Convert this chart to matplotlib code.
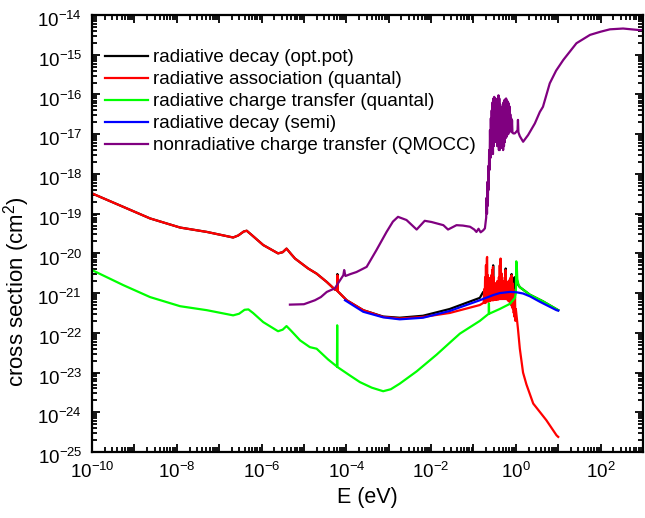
import matplotlib
matplotlib.use('Agg')
import numpy as np
import matplotlib.pyplot as plt
import matplotlib.transforms as mtransforms
from matplotlib.ticker import LogLocator, FixedLocator, FuncFormatter, NullFormatter

plt.rcParams['font.family'] = ['Liberation Sans', 'DejaVu Sans']
plt.rcParams['mathtext.default'] = 'regular'

# values are log10(E / eV) and log10(sigma / cm^2)

# radiative association (quantal)
red_logE = [-10.0, -9.26, -8.63, -7.92, -7.29, -6.67, -6.55, -6.42, -6.35, -6.25,
            -5.96, -5.61, -5.50, -5.41, -5.30, -5.21, -4.90, -4.70, -4.46, -4.27,
            -4.215, -4.21, -4.205, -3.99, -3.60, -3.13, -2.74, -2.19, -1.56, -0.85,
            -0.786, -0.76,
            -0.745, -0.735, -0.725, -0.715, -0.705, -0.695, -0.685, -0.677, -0.670, -0.660,
            -0.650, -0.640, -0.630, -0.620, -0.610, -0.600, -0.590, -0.580, -0.570, -0.560,
            -0.550, -0.540, -0.530, -0.520, -0.510, -0.500, -0.490, -0.480, -0.470, -0.460,
            -0.450, -0.440, -0.430, -0.420, -0.410, -0.400, -0.390, -0.380, -0.370, -0.360,
            -0.350, -0.340, -0.330, -0.320, -0.310, -0.300, -0.290, -0.280, -0.270, -0.260,
            -0.250, -0.240, -0.230, -0.220, -0.210, -0.200, -0.190, -0.180, -0.170, -0.160,
            -0.150, -0.140, -0.130, -0.120, -0.110, -0.100, -0.090, -0.080, -0.070, -0.060,
            -0.050, -0.040, -0.030, -0.020, -0.010, 0.000,
            0.05, 0.094, 0.17, 0.25, 0.41, 0.72, 0.96, 1.0]
red_logS = [-18.49, -18.83, -19.12, -19.35, -19.46, -19.60, -19.55, -19.45, -19.43, -19.52,
            -19.79, -20.00, -19.97, -19.88, -20.02, -20.13, -20.38, -20.51, -20.72, -20.91,
            -20.93, -20.55, -20.95, -21.18, -21.43, -21.60, -21.64, -21.60, -21.50, -21.30,
            -21.26, -21.24,
            -20.90, -21.25, -20.60, -21.25, -20.30, -21.22, -20.12, -20.09, -21.20, -20.55,
            -21.22, -20.75, -21.20, -20.62, -21.20, -20.70, -21.18, -20.55, -21.18, -20.42,
            -21.18, -20.34, -21.18, -20.60, -21.17, -20.80, -21.17, -20.75, -21.17, -20.82,
            -21.16, -20.70, -21.16, -20.75, -21.16, -20.60, -21.15, -20.30, -21.15, -20.13,
            -21.15, -20.50, -21.15, -20.80, -21.15, -20.85, -21.15, -20.70, -21.15, -20.60,
            -21.15, -20.42, -21.15, -20.70, -21.15, -20.80, -21.18, -20.85, -21.20, -20.70,
            -21.22, -20.65, -21.25, -20.60, -21.30, -20.55, -21.35, -20.75, -21.40, -20.90,
            -21.50, -21.00, -21.60, -21.10, -21.70, -21.40,
            -21.90, -22.40, -23.00, -23.30, -23.78, -24.20, -24.58, -24.62]

# radiative decay (opt.pot)
black_logE = [-10.0, -9.26, -8.63, -7.92, -7.29, -6.67, -6.55, -6.42, -6.35, -6.25,
              -5.96, -5.61, -5.50, -5.41, -5.30, -5.21, -4.90, -4.70, -4.46, -4.27,
              -4.215, -4.21, -4.205, -3.99, -3.60, -3.13, -2.74, -2.19, -1.56, -0.85,
              -0.77, -0.75, -0.70, -0.54, -0.535, -0.53, -0.245, -0.24, -0.235, -0.11,
              -0.10, -0.09, -0.035, -0.03, -0.02, 0.01, 0.03, 0.06, 0.094, 0.33, 0.645, 1.0]
black_logS = [-18.49, -18.83, -19.12, -19.35, -19.46, -19.60, -19.55, -19.45, -19.43, -19.52,
              -19.79, -20.00, -19.97, -19.88, -20.02, -20.13, -20.38, -20.51, -20.72, -20.91,
              -20.93, -20.52, -20.95, -21.18, -21.43, -21.59, -21.62, -21.57, -21.40, -21.12,
              -20.97, -21.00, -21.05, -21.05, -20.30, -21.05, -21.05, -20.38, -21.05, -21.00,
              -20.52, -21.00, -21.00, -20.60, -20.90, -20.63, -20.70, -20.80, -20.85, -21.04,
              -21.21, -21.43]

# radiative charge transfer (quantal)
green_logE = [-10.0, -9.26, -8.63, -7.92, -7.29, -6.67, -6.53, -6.40, -6.31, -6.20,
              -5.96, -5.61, -5.50, -5.41, -5.30, -5.09, -4.86, -4.70, -4.43, -4.22,
              -4.215, -4.21, -3.92, -3.68, -3.40, -3.13, -2.95, -2.74, -2.34, -1.87,
              -1.56, -1.32, -0.85, -0.64, -0.635, -0.63, -0.38, -0.14, -0.02, 0.00,
              0.01, 0.02, 0.035, 0.06, 0.094, 0.33, 0.645, 1.0]
green_logS = [-20.42, -20.80, -21.10, -21.33, -21.43, -21.56, -21.52, -21.42, -21.41, -21.50,
              -21.73, -21.96, -21.92, -21.83, -21.95, -22.19, -22.36, -22.40, -22.67, -22.85,
              -21.81, -22.86, -23.07, -23.24, -23.38, -23.47, -23.42, -23.28, -22.97, -22.55,
              -22.25, -22.02, -21.70, -21.52, -21.26, -21.52, -21.40, -21.27, -21.12, -21.00,
              -20.20, -20.25, -20.65, -20.78, -20.85, -21.04, -21.21, -21.43]

# radiative decay (semi)
blue_logE = [-4.03, -3.60, -3.13, -2.74, -2.19, -1.56, -0.85, -0.535, -0.38, -0.14,
             0.02, 0.17, 0.33, 0.57, 0.96, 1.0]
blue_logS = [-21.18, -21.47, -21.61, -21.66, -21.62, -21.45, -21.18, -21.05, -21.00, -20.97,
             -20.98, -21.01, -21.08, -21.22, -21.43, -21.44]

# nonradiative charge transfer (QMOCC)
purple_logE = [-5.33, -5.00, -4.74, -4.60, -4.46, -4.27, -4.15, -4.07, -4.05, -4.02,
               -3.90, -3.76, -3.52, -3.29, -3.05, -2.90, -2.78, -2.58, -2.34, -2.15,
               -1.99, -1.71, -1.60, -1.40, -1.25, -1.08, -0.98, -0.93, -0.88, -0.83,
               -0.77, -0.73,
               -0.700, -0.690, -0.680, -0.670, -0.660, -0.650, -0.640, -0.630, -0.620, -0.610,
               -0.600, -0.590, -0.580, -0.570, -0.560, -0.550, -0.540, -0.530, -0.520, -0.510,
               -0.500, -0.490, -0.480, -0.470, -0.460, -0.450, -0.440, -0.430, -0.420, -0.410,
               -0.400, -0.390, -0.380, -0.370, -0.360, -0.350, -0.340, -0.330, -0.320, -0.310,
               -0.300, -0.290, -0.280, -0.270, -0.260, -0.250, -0.240, -0.230, -0.220, -0.210,
               -0.200, -0.190, -0.180, -0.170, -0.160, -0.150, -0.140, -0.130, -0.120, -0.110,
               -0.100, -0.090, -0.080, -0.060, -0.024,
               0.040, 0.050, 0.060, 0.094, 0.172, 0.29, 0.448, 0.566, 0.64, 0.80,
               0.95, 1.12, 1.43, 1.75, 2.00, 2.22, 2.53, 2.92, 3.00]
purple_logS = [-21.29, -21.28, -21.18, -21.10, -20.97, -20.88, -20.68, -20.55, -20.42, -20.57,
               -20.52, -20.47, -20.34, -19.92, -19.46, -19.20, -19.08, -19.16, -19.40, -19.18,
               -19.21, -19.29, -19.40, -19.29, -19.30, -19.33, -19.40, -19.46, -19.38, -19.47,
               -19.42, -19.37,
               -19.10, -18.60, -19.00, -18.20, -18.80, -17.80, -18.40, -17.40, -17.90, -16.90,
               -17.60, -16.60, -17.40, -16.40, -17.30, -16.20, -17.50, -16.10, -17.30, -16.06,
               -17.20, -16.10, -17.15, -16.20, -17.20, -16.30, -17.30, -16.10, -17.30, -16.02,
               -17.40, -16.10, -17.40, -16.25, -17.35, -16.35, -17.30, -16.39, -17.35, -16.30,
               -17.40, -16.20, -17.30, -16.14, -17.20, -16.12, -17.10, -16.10, -17.07, -16.15,
               -17.00, -16.18, -17.00, -16.22, -16.95, -16.30, -16.90, -16.50, -16.90, -16.60,
               -16.95, -16.65, -16.95, -16.98, -16.98,
               -16.90, -16.64, -16.95, -17.05, -17.19, -17.02, -16.73, -16.44, -16.31, -15.72,
               -15.40, -15.13, -14.71, -14.50, -14.42, -14.36, -14.34, -14.38, -14.38]

# decades marked on each axis
x_decades = list(range(-10, 4))
y_decades = list(range(-25, -13))

series = [
    (black_logE, black_logS, 'black', 'radiative decay (opt.pot)'),
    (red_logE, red_logS, '#ff0000', 'radiative association (quantal)'),
    (green_logE, green_logS, '#00ff00', 'radiative charge transfer (quantal)'),
    (blue_logE, blue_logS, '#0000ff', 'radiative decay (semi)'),
    (purple_logE, purple_logS, '#800080', 'nonradiative charge transfer (QMOCC)'),
]

fig = plt.figure(figsize=(6.45, 5.18), dpi=100)
ax = fig.add_axes([0.1426, 0.1274, 0.8543, 0.8436])

for logE, logS, col, lab in series:
    ax.plot(10.0 ** np.array(logE), 10.0 ** np.array(logS), color=col, lw=1.6, label=lab)

ax.set_xscale('log')
ax.set_yscale('log')
ax.set_xlim(1e-10, 1e3)
ax.set_ylim(1e-25, 1e-14)

ax.xaxis.set_major_locator(FixedLocator([10.0 ** e for e in x_decades]))
ax.yaxis.set_major_locator(FixedLocator([10.0 ** e for e in y_decades]))
ax.xaxis.set_minor_locator(LogLocator(base=10, subs=np.arange(2, 10), numticks=200))
ax.yaxis.set_minor_locator(LogLocator(base=10, subs=np.arange(2, 10), numticks=200))
ax.xaxis.set_minor_formatter(NullFormatter())
ax.yaxis.set_minor_formatter(NullFormatter())


def even_decades(v, pos):
    e = int(round(np.log10(v)))
    return r'$10^{%d}$' % e if e % 2 == 0 else ''


def all_decades(v, pos):
    e = int(round(np.log10(v)))
    return r'$10^{%d}$' % e


ax.xaxis.set_major_formatter(FuncFormatter(even_decades))
ax.yaxis.set_major_formatter(FuncFormatter(all_decades))

ax.tick_params(which='both', direction='in', top=True, right=True, width=1.3)
ax.tick_params(which='major', length=6, labelsize=13.5, pad=7)
ax.tick_params(which='minor', length=3.5)
for sp in ax.spines.values():
    sp.set_linewidth(1.6)

ax.set_xlabel('E (eV)', fontsize=15.5, labelpad=4)
ax.set_ylabel('cross section (cm$^2$)', fontsize=16)
ax.yaxis.set_label_coords(-0.109, 0.367)

ax.legend(loc='upper left', bbox_to_anchor=(0.023, 0.922), frameon=False, fontsize=13.5,
          handlelength=2.3, handletextpad=0.27, labelspacing=0.26, borderaxespad=0, borderpad=0)

# nudge the y tick labels down a little so 10^-14 sits clear of the top edge
fig.canvas.draw()
shift = mtransforms.ScaledTranslation(0, -3 / 72, fig.dpi_scale_trans)
for lbl in ax.get_yticklabels():
    lbl.set_transform(lbl.get_transform() + shift)

fig.savefig('out.png', dpi=100)
